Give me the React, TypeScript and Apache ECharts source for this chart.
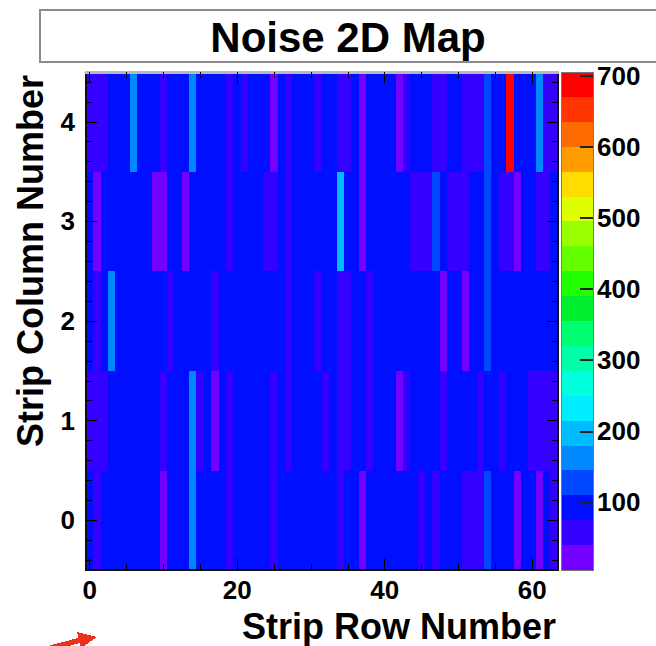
import React, { useEffect, useRef } from 'react';
import * as echarts from 'echarts';

// Strip row numbers (x) and strip column numbers (y)
const stripRowCategories = Array.from({ length: 64 }, (_, i) => String(i));
const stripColumnCategories = ['0', '1', '2', '3', '4'];

// Noise per strip row, one array per strip column
const noiseCol0 = [94, 61, 90, 93, 88, 96, 91, 89, 95, 92, 29, 90, 94, 87, 163, 93, 91, 96, 88, 64, 92, 90, 95, 89, 93, 60, 91, 94, 87, 96, 90, 93, 89, 92, 63, 95, 88, 32, 91, 94, 90, 97, 89, 92, 93, 62, 90, 59, 94, 91, 88, 64, 61, 66, 126, 93, 90, 95, 30, 92, 89, 34, 91, 62];
const noiseCol1 = [60, 57, 64, 92, 89, 95, 90, 93, 97, 88, 62, 91, 94, 87, 159, 65, 92, 28, 90, 61, 96, 89, 93, 91, 86, 63, 94, 60, 90, 97, 92, 88, 62, 95, 64, 67, 91, 93, 61, 89, 96, 90, 33, 59, 92, 88, 94, 91, 64, 96, 89, 93, 90, 62, 95, 88, 60, 92, 97, 91, 58, 63, 61, 66];
const noiseCol2 = [93, 64, 90, 160, 88, 96, 91, 94, 87, 92, 98, 61, 90, 93, 86, 95, 91, 63, 89, 94, 97, 90, 88, 93, 91, 96, 87, 62, 94, 90, 92, 60, 95, 89, 66, 63, 91, 97, 59, 92, 88, 94, 90, 96, 93, 85, 91, 89, 31, 94, 92, 29, 97, 90, 127, 93, 88, 95, 91, 86, 94, 90, 92, 97];
const noiseCol3 = [91, 28, 95, 88, 93, 97, 86, 92, 90, 27, 32, 94, 89, 30, 96, 91, 87, 93, 98, 62, 90, 85, 94, 92, 65, 60, 91, 64, 88, 95, 90, 93, 86, 97, 198, 92, 89, 33, 94, 90, 87, 96, 91, 95, 63, 59, 66, 128, 90, 61, 57, 64, 90, 92, 134, 88, 63, 60, 30, 93, 89, 58, 62, 91];
const noiseCol4 = [62, 58, 65, 92, 88, 95, 162, 90, 97, 86, 63, 91, 99, 84, 158, 93, 88, 96, 90, 61, 94, 57, 89, 92, 98, 34, 87, 66, 93, 90, 85, 59, 96, 91, 68, 64, 89, 31, 94, 88, 97, 92, 29, 60, 93, 86, 99, 67, 62, 90, 95, 58, 63, 66, 131, 92, 88, 705, 94, 90, 86, 164, 61, 56];
const noiseByColumn = [noiseCol0, noiseCol1, noiseCol2, noiseCol3, noiseCol4];

// Palette contour edges (20 levels) and colours, bottom to top
const levelEdges = [5, 40, 75, 110, 145, 180, 215, 250, 285, 320, 355, 390, 425, 460, 495, 530, 565, 600, 635, 670, 705];
const levelColors = [
  '#7400ff', '#3400ff', '#0010ff', '#0048ff', '#0088ff', '#00bbff', '#00eeff', '#00ffdd', '#00ffaa', '#00ff70',
  '#00f030', '#22ff00', '#66ff00', '#99ff00', '#ddff00', '#ffdd00', '#ff9c00', '#ff6a00', '#ff3400', '#ff0000',
];

// Tick values
const xMajorTicks = [0, 20, 40, 60];
const xMinorTicks = [5, 10, 15, 25, 30, 35, 45, 50, 55];
const yMajorTicks = [0, 1, 2, 3, 4];
const yMinorTicks = [-0.4, -0.2, 0.2, 0.4, 0.6, 0.8, 1.2, 1.4, 1.6, 1.8, 2.2, 2.4, 2.6, 2.8, 3.2, 3.4, 3.6, 3.8, 4.2, 4.4];
const zTicks = [100, 200, 300, 400, 500, 600, 700];

const FONT = '"Liberation Sans", Arial, Helvetica, sans-serif';

export default function App() {
  const ref = useRef<HTMLDivElement>(null);

  useEffect(() => {
    document.body.style.margin = '0';
    if (!ref.current) return;
    const chart = echarts.init(ref.current, undefined, { renderer: 'svg' });

    const data: [number, number, number][] = [];
    noiseByColumn.forEach((row, y) => row.forEach((v, x) => data.push([x, y, v])));

    const pieces = levelColors.map((c, i) => ({ min: levelEdges[i], max: levelEdges[i + 1], color: c }));

    const labelStyle = { fontFamily: FONT, fontWeight: 'bold' as const, fontSize: 26, color: '#000' };

    const tickAxis = (pos: string, isX: boolean, ticks: number[], len: number, showLine: boolean, labels: boolean, lineColor = '#111', lineWidth = 1.5) => ({
      type: 'value',
      gridIndex: 0,
      position: pos,
      min: -0.5,
      max: isX ? 63.5 : 4.5,
      z: 6,
      axisLine: { show: showLine, onZero: false, lineStyle: { color: lineColor, width: lineWidth } },
      axisTick: { show: true, inside: true, length: len, customValues: ticks, lineStyle: { color: '#000', width: 1.2 } },
      axisLabel: labels
        ? { show: true, customValues: ticks, margin: isX ? 7 : 11, ...labelStyle }
        : { show: false },
      splitLine: { show: false },
    });

    const option: any = {
      animation: false,
      backgroundColor: '#ffffff',
      grid: [
        { left: 86, top: 72, width: 472, height: 498, show: false },
        { left: 561, top: 72, width: 32, height: 498, show: false },
      ],
      xAxis: [
        { type: 'category', gridIndex: 0, data: stripRowCategories, show: false },
        tickAxis('bottom', true, xMajorTicks, 11, true, true),
        tickAxis('bottom', true, xMinorTicks, 6, false, false),
        tickAxis('top', true, xMajorTicks, 11, true, false, '#b8b8b8', 3),
        tickAxis('top', true, xMinorTicks, 6, false, false),
        { type: 'value', gridIndex: 1, min: 0, max: 1, show: false },
      ],
      yAxis: [
        { type: 'category', gridIndex: 0, data: stripColumnCategories, show: false },
        tickAxis('left', false, yMajorTicks, 11, true, true),
        tickAxis('left', false, yMinorTicks, 6, false, false),
        tickAxis('right', false, yMajorTicks, 11, true, false),
        tickAxis('right', false, yMinorTicks, 6, false, false),
        {
          type: 'value',
          gridIndex: 1,
          position: 'right',
          min: levelEdges[0],
          max: levelEdges[levelEdges.length - 1],
          z: 10,
          axisLine: { show: false, onZero: false },
          axisTick: { show: true, inside: true, length: 13, customValues: zTicks, lineStyle: { color: '#222', width: 1.5 } },
          axisLabel: { show: true, customValues: zTicks, margin: 4, ...labelStyle },
          splitLine: { show: false },
        },
      ],
      visualMap: {
        type: 'piecewise',
        seriesIndex: 0,
        pieces,
        left: 561,
        top: 72,
        orient: 'vertical',
        itemWidth: 32,
        itemHeight: 498 / 20,
        itemGap: 0,
        itemSymbol: 'rect',
        showLabel: false,
        padding: 0,
        hoverLink: false,
        selectedMode: false,
      },
      series: [
        {
          type: 'heatmap',
          xAxisIndex: 0,
          yAxisIndex: 0,
          data,
          itemStyle: { borderWidth: 0 },
          emphasis: { disabled: true },
        },
      ],
      graphic: [
        {
          type: 'rect',
          shape: { x: 40, y: 10, width: 640, height: 52 },
          style: { fill: '#ffffff', stroke: '#8a8a8a', lineWidth: 2 },
          z: 20,
        },
        {
          type: 'text',
          x: 348,
          y: 37,
          style: { text: 'Noise 2D Map', font: `bold 42px ${FONT}`, fill: '#000', textAlign: 'center', textVerticalAlign: 'middle' },
          z: 21,
        },
        {
          type: 'text',
          x: 556,
          y: 626,
          style: { text: 'Strip Row Number', font: `bold 36px ${FONT}`, fill: '#000', textAlign: 'right', textVerticalAlign: 'middle' },
          z: 21,
        },
        {
          type: 'text',
          x: 30,
          y: 75,
          rotation: Math.PI / 2,
          style: { text: 'Strip Column Number', font: `bold 36px ${FONT}`, fill: '#000', textAlign: 'right', textVerticalAlign: 'middle' },
          z: 21,
        },
        {
          type: 'rect',
          shape: { x: 561, y: 72, width: 32, height: 498 },
          style: { fill: 'none', stroke: '#777', lineWidth: 1 },
          z: 30,
        },
        {
          type: 'polygon',
          shape: { points: [[44, 647], [82, 637], [84, 642], [46, 652]] },
          style: { fill: '#e8321e' },
          z: 21,
        },
        {
          type: 'polygon',
          shape: { points: [[77, 632], [97, 637], [81, 648]] },
          style: { fill: '#e8321e' },
          z: 21,
        },
      ],
    };

    chart.setOption(option);
    return () => chart.dispose();
  }, []);

  return (
    <>
      <style>{'.noise-map svg path { shape-rendering: crispEdges; }'}</style>
      <div className="noise-map" ref={ref} style={{ width: 656, height: 646 }} />
    </>
  );
}
